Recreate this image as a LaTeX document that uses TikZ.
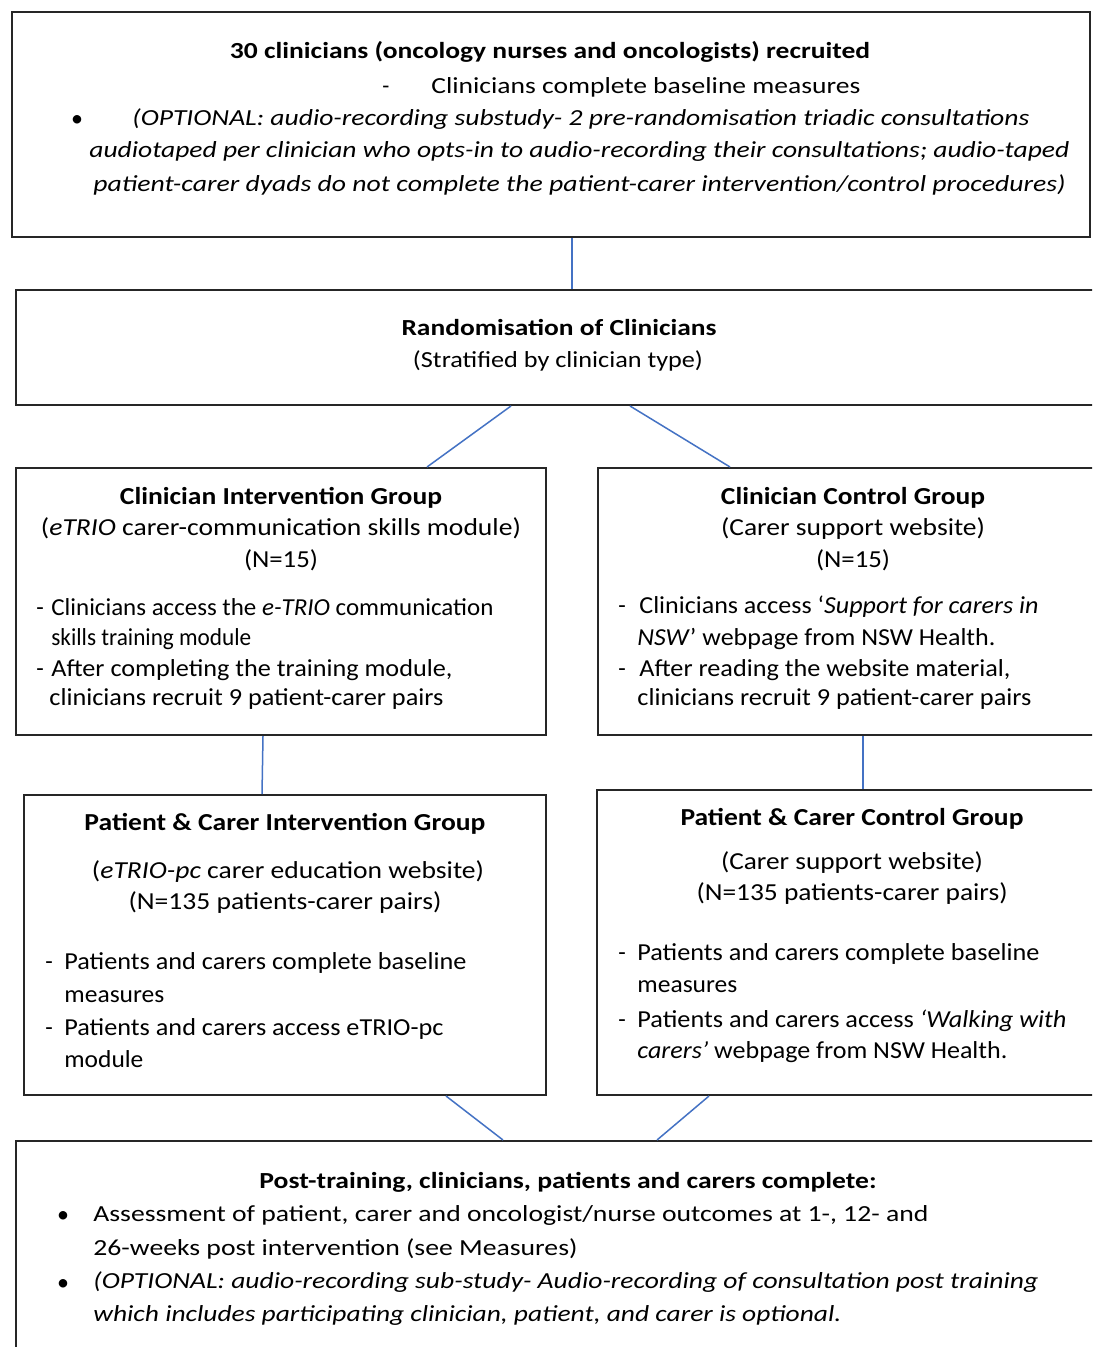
\documentclass[tikz,border=0pt]{standalone}
\usepackage{fontspec}
\setmainfont{Carlito}
\usepackage{graphicx}
\usetikzlibrary{fit}
\definecolor{linkblue}{HTML}{4472C4}
\definecolor{boxline}{HTML}{262626}
\newlength\lwdim
\newcommand{\lw}[2]{\lwdim=#1pt\lwdim=0.5\lwdim\resizebox{\lwdim}{\height}{#2}}
\tikzset{
  box/.style={draw=boxline, line width=1pt, inner sep=0pt},
  link/.style={draw=linkblue, line width=0.75pt},
  tl/.style={inner sep=0pt, anchor=base west},
  tc/.style={inner sep=0pt, anchor=base},
  fa/.style={font=\fontsize{11.5}{13}\selectfont},
  fb/.style={font=\fontsize{12.2}{14}\selectfont},
}
\begin{document}
\begin{tikzpicture}[x=0.5pt, y=-0.5pt]
\useasboundingbox (0,0) rectangle (1092,1347);
\fill[white] (0,0) rectangle (1092,1347);
\clip (0,0) rectangle (1092,1347);

% boxes
\node[box, fit={(12,12) (1090,237)}] (top) {};
\node[box, fit={(16,290) (1102,405)}] (rand) {};
\node[box, fit={(16,468) (546,735)}] (ci) {};
\node[box, fit={(598,468) (1102,735)}] (cc) {};
\node[box, fit={(24,795) (546,1095)}] (pi) {};
\node[box, fit={(597,790) (1102,1095)}] (pc) {};
\node[box, fit={(16,1141) (1102,1362)}] (post) {};

% connectors
\draw[link] (572,0 |- top.south) -- (572,0 |- rand.north);
\draw[link] (511,0 |- rand.south) -- (427,0 |- ci.north);
\draw[link] (630,0 |- rand.south) -- (730,0 |- cc.north);
\draw[link] (263,0 |- ci.south) -- (262,0 |- pi.north);
\draw[link] (863,0 |- cc.south) -- (863,0 |- pc.north);
\draw[link] (446,0 |- pi.south) -- (503,0 |- post.north);
\draw[link] (709,0 |- pc.south) -- (657,0 |- post.north);

% top box
\node[tc,fa] (t1) at (550,59) {\lw{640}{\textbf{30 clinicians (oncology nurses and oncologists) recruited}}};
\node[tl,fa] (t2d) at (382,94) {-};
\node[tl,fa] (t2) at (431,94) {\lw{429}{Clinicians complete baseline measures}};
\node[tc,fa] (t3b) at (77,127) {\large•};
\node[tl,fa] (t3) at (132,126) {\lw{897}{\itshape (OPTIONAL: audio-recording substudy- 2 pre-randomisation triadic consultations}};
\node[tl,fa] (t4) at (89,158) {\lw{980}{\itshape audiotaped per clinician who opts-in to audio-recording their consultations; audio-taped}};
\node[tl,fa] (t5) at (93,192) {\lw{972}{\itshape patient-carer dyads do not complete the patient-carer intervention/control procedures)}};

% randomisation
\node[tc,fa] (r1) at (559,336) {\lw{315}{\textbf{Randomisation of Clinicians}}};
\node[tc,fa] (r2) at (558,368) {\lw{290}{(Stratified by clinician type)}};

% clinician intervention
\node[tc,fb] (ci1) at (281,504) {\lw{322}{\textbf{Clinician Intervention Group}}};
\node[tc,fb] (ci2) at (281,535) {\lw{480}{(\textit{eTRIO} carer-communication skills module)}};
\node[tc,fb] (ci3) at (281,567) {\lw{74}{(N=15)}};
\node[tl,fb] (ci4d) at (36,615) {-};
\node[tl,fb] (ci4) at (51,615) {\lw{442}{Clinicians access the \textit{e-TRIO} communication}};
\node[tl,fb] (ci5) at (51,645) {\lw{200}{skills training module}};
\node[tl,fb] (ci6d) at (36,676) {-};
\node[tl,fb] (ci6) at (51,676) {\lw{401}{After completing the training module,}};
\node[tl,fb] (ci7) at (49,705) {\lw{394}{clinicians recruit 9 patient-carer pairs}};

% clinician control
\node[tc,fb] (cc1) at (853,504) {\lw{264}{\textbf{Clinician Control Group}}};
\node[tc,fb] (cc2) at (853,535) {\lw{264}{(Carer support website)}};
\node[tc,fb] (cc3) at (853,567) {\lw{74}{(N=15)}};
\node[tl,fb] (cc4d) at (618,613) {-};
\node[tl,fb] (cc4) at (639,613) {\lw{399}{Clinicians access ‘\textit{Support for carers in}}};
\node[tl,fb] (cc5) at (637,645) {\lw{358}{\textit{NSW}’ webpage from NSW Health.}};
\node[tl,fb] (cc6d) at (618,676) {-};
\node[tl,fb] (cc6) at (639,676) {\lw{371}{After reading the website material,}};
\node[tl,fb] (cc7) at (637,705) {\lw{394}{clinicians recruit 9 patient-carer pairs}};

% patient intervention
\node[tc,fb] (pi1) at (285,830) {\lw{401}{\textbf{Patient \& Carer Intervention Group}}};
\node[tc,fb] (pi2) at (288,878) {\lw{392}{(\textit{eTRIO-pc} carer education website)}};
\node[tc,fb] (pi3) at (285,909) {\lw{313}{(N=135 patients-carer pairs)}};
\node[tl,fb] (pi4d) at (45,969) {-};
\node[tl,fb] (pi4) at (64,969) {\lw{402}{Patients and carers complete baseline}};
\node[tl,fb] (pi5) at (64,1002) {\lw{100}{measures}};
\node[tl,fb] (pi6d) at (45,1035) {-};
\node[tl,fb] (pi6) at (64,1035) {\lw{379}{Patients and carers access eTRIO-pc}};
\node[tl,fb] (pi7) at (64,1067) {\lw{79}{module}};

% patient control
\node[tc,fb] (pc1) at (852,825) {\lw{343}{\textbf{Patient \& Carer Control Group}}};
\node[tc,fb] (pc2) at (852,869) {\lw{262}{(Carer support website)}};
\node[tc,fb] (pc3) at (852,900) {\lw{311}{(N=135 patients-carer pairs)}};
\node[tl,fb] (pc4d) at (618,960) {-};
\node[tl,fb] (pc4) at (637,960) {\lw{402}{Patients and carers complete baseline}};
\node[tl,fb] (pc5) at (637,992) {\lw{100}{measures}};
\node[tl,fb] (pc6d) at (618,1027) {-};
\node[tl,fb] (pc6) at (637,1027) {\lw{429}{Patients and carers access \textit{‘Walking with}}};
\node[tl,fb] (pc7) at (637,1058) {\lw{370}{\textit{carers’} webpage from NSW Health.}};

% post-training
\node[tc,fa] (p1) at (568,1188) {\lw{617}{\textbf{Post-training, clinicians, patients and carers complete:}}};
\node[tc,fa] (p2b) at (63,1222) {\large•};
\node[tl,fa] (p2) at (93,1221) {\lw{835}{Assessment of patient, carer and oncologist/nurse outcomes at 1-, 12- and}};
\node[tl,fa] (p3) at (93,1255) {\lw{484}{26-weeks post intervention (see Measures)}};
\node[tc,fa] (p4b) at (63,1290) {\large•};
\node[tl,fa] (p4) at (93,1288) {\lw{945}{\itshape (OPTIONAL: audio-recording sub-study- Audio-recording of consultation post training}};
\node[tl,fa] (p5) at (93,1321) {\lw{748}{\itshape which includes participating clinician, patient, and carer is optional.}};
\end{tikzpicture}
\end{document}
